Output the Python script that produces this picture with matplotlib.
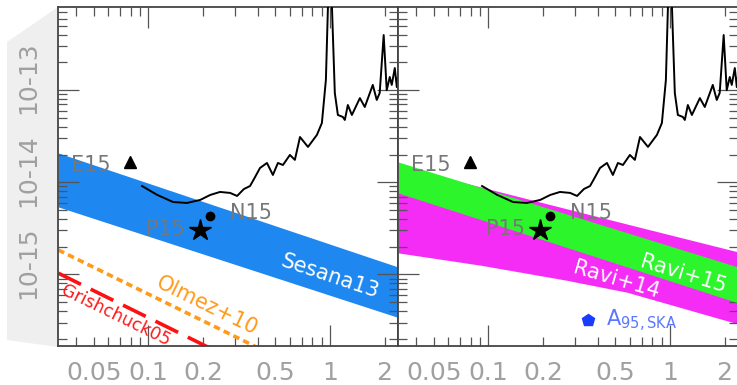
import matplotlib.pyplot as plt
from matplotlib.patches import Polygon
from matplotlib.transforms import ScaledTranslation

# frequency in 1/yr, characteristic strain h_c
curve_f = [0.0923, 0.1117, 0.1368, 0.163, 0.193, 0.219, 0.248, 0.282, 0.308, 0.336,
           0.363, 0.387, 0.412, 0.450, 0.485, 0.517, 0.551, 0.602, 0.641, 0.684,
           0.757, 0.848, 0.903, 0.950, 0.975, 1.0, 1.026, 1.064, 1.106, 1.178,
           1.208, 1.255, 1.321, 1.462, 1.556, 1.722, 1.811, 1.880, 1.977, 2.055,
           2.136, 2.19, 2.277, 2.335, 2.39]
curve_hc = [9.1e-15, 7.3e-15, 6.1e-15, 5.96e-15, 6.43e-15, 7.28e-15, 7.85e-15, 7.66e-15,
            7.1e-15, 8.45e-15, 9.1e-15, 1.14e-14, 1.43e-14, 1.62e-14, 1.2e-14, 1.62e-14,
            1.54e-14, 1.98e-14, 1.75e-14, 3.1e-14, 2.42e-14, 3.27e-14, 4.4e-14, 1.29e-13,
            8e-13, 5e-12, 8e-13, 9.3e-14, 5.38e-14, 5.12e-14, 4.75e-14, 6.9e-14, 5.38e-14,
            8.2e-14, 6.57e-14, 1.14e-13, 7.83e-14, 9.33e-14, 3.97e-13, 1.0e-13, 1.39e-13,
            1.14e-13, 1.74e-13, 1.08e-13, 1.66e-13]

sesana_f = [0.0319, 2.38]
sesana_hi = [2.08e-14, 1.2e-15]
sesana_lo = [5.4e-15, 3.4e-16]

olmez_f = [0.0319, 0.40]
olmez_hc = [1.84e-15, 1.6e-16]

grish_f = [0.0319, 0.22]
grish_hc = [1.03e-15, 1.57e-16]

ravi15_f = [0.0319, 2.38]
ravi15_hi = [1.66e-14, 1.2e-15]
ravi15_lo = [7.66e-15, 4.89e-16]

ravi14_f = [0.0319, 0.090, 0.264, 0.580, 2.38]
ravi14_hi = [1.50e-14, 8.93e-15, 5.21e-15, 3.52e-15, 1.75e-15]
ravi14_lo = [1.71e-15, 1.26e-15, 8.7e-16, 6.4e-16, 2.89e-16]

# individual limits / detections
e15 = (0.0793, 1.66e-14)
p15 = (0.1925, 3.03e-15)
n15 = (0.219, 4.34e-15)
ska = (0.354, 3.2e-16)

xmajor = [0.1, 1]
xminor = [0.04, 0.05, 0.06, 0.07, 0.08, 0.09, 0.2, 0.3, 0.4, 0.5, 0.6, 0.7, 0.8, 0.9, 2]
xminor_labels = ['', '0.05', '', '', '', '', '0.2', '', '', '0.5', '', '', '', '', '2']
yticks = [1e-15, 1e-14, 1e-13]
ylabels = ['10-15', '10-14', '10-13']

W, H = 737, 385
fig = plt.figure(figsize=(W / 100, H / 100), dpi=100)
fig.add_artist(Polygon([(7 / W, 1 - 42 / H), (58 / W, 1 - 7 / H), (58 / W, 1 - 347 / H),
                        (7 / W, 1 - 340 / H)], closed=True, transform=fig.transFigure,
                       facecolor='#efefef', edgecolor='none', zorder=-5))

ax1 = fig.add_axes([58.3 / W, 39.3 / H, 340 / W, 338.4 / H])
ax2 = fig.add_axes([398.3 / W, 39.3 / H, 340 / W, 338.4 / H])

lab_gray = '#777777'
for ax in (ax1, ax2):
    ax.set_xscale('log')
    ax.set_yscale('log')
    ax.set_xlim(0.0319, 2.38)
    ax.set_ylim(1.68e-16, 7.94e-13)
    ax.set_xticks(xmajor, ['0.1', '1'])
    ax.set_xticks(xminor, xminor_labels, minor=True)
    ax.set_yticks(yticks, ylabels if ax is ax1 else ['', '', ''])
    ax.yaxis.set_minor_formatter(plt.NullFormatter())
    ax.tick_params(which='both', direction='in', top=True, right=True,
                   color='#555555', width=0.9, labelsize=18, labelcolor='#a0a0a0')
    ax.tick_params(which='major', length=15)
    ax.tick_params(which='minor', length=6.5)
    ax.tick_params(axis='x', which='both', pad=11)
    ax.tick_params(axis='y', which='both', pad=13, labelrotation=90)
    for s in ax.spines.values():
        s.set_color('#444444')
        s.set_linewidth(1.3)

    ax.plot(curve_f, curve_hc, color='black', lw=1.4, zorder=4)
    ax.plot(*e15, marker='^', ms=9, color='black', zorder=5)
    ax.plot(*p15, marker='*', ms=16, color='black', zorder=5)
    ax.plot(*n15, marker='o', ms=6, color='black', zorder=5)
    ax.annotate('E15', e15, xytext=(-14, -2), textcoords='offset points',
                ha='right', va='center', fontsize=15, color=lab_gray, zorder=6)
    ax.annotate('P15', p15, xytext=(-11, 1), textcoords='offset points',
                ha='right', va='center', fontsize=15, color=lab_gray, zorder=6)
    ax.annotate('N15', n15, xytext=(14, 2), textcoords='offset points',
                ha='left', va='center', fontsize=15, color=lab_gray, zorder=6)

shift = ScaledTranslation(0, 0.12, fig.dpi_scale_trans)
for lab in ax1.get_yticklabels():
    lab.set_va('center')
    lab.set_transform(lab.get_transform() + shift)

# left panel
ax1.fill_between(sesana_f, sesana_lo, sesana_hi, color='#1e87f0', lw=0, zorder=1)
ax1.plot(olmez_f, olmez_hc, color='#ff9a1a', lw=2.6, dashes=(1.8, 1.2), zorder=2)
ax1.plot(grish_f, grish_hc, color='#ff1010', lw=2.6, dashes=(7, 3), zorder=2)
ax1.text(1.0, 9.6e-16, 'Sesana13', color='white', fontsize=15, rotation=-18.4,
         rotation_mode='anchor', ha='center', va='center', zorder=6)
ax1.text(0.21, 4.6e-16, 'Olmez+10', color='#ff9a1a', fontsize=15, rotation=-26,
         rotation_mode='anchor', ha='center', va='center', zorder=6)
ax1.text(0.0664, 3.53e-16, 'Grishchuck05', color='#ff1a1a', fontsize=12.5, rotation=-26,
         rotation_mode='anchor', ha='center', va='center', zorder=6)

# right panel
ax2.fill_between(ravi14_f, ravi14_lo, ravi14_hi, color='#f52cf5', lw=0, zorder=1)
ax2.fill_between(ravi15_f, ravi15_lo, ravi15_hi, color='#2cf52c', lw=0, zorder=2)
ax2.text(1.19, 1.01e-15, 'Ravi+15', color='white', fontsize=15, rotation=-17,
         rotation_mode='anchor', ha='center', va='center', zorder=6)
ax2.text(0.51, 8.7e-16, 'Ravi+14', color='white', fontsize=15, rotation=-16.5,
         rotation_mode='anchor', ha='center', va='center', zorder=6)
ax2.plot(*ska, marker='p', ms=9, color='#1a3cff', zorder=5)
ax2.annotate(r'$\mathregular{A_{95,SKA}}$', ska, xytext=(13, -5), textcoords='offset points',
             ha='left', va='baseline', fontsize=15, color='#5a78ff', zorder=6)

fig.savefig('out.png', dpi=100)
